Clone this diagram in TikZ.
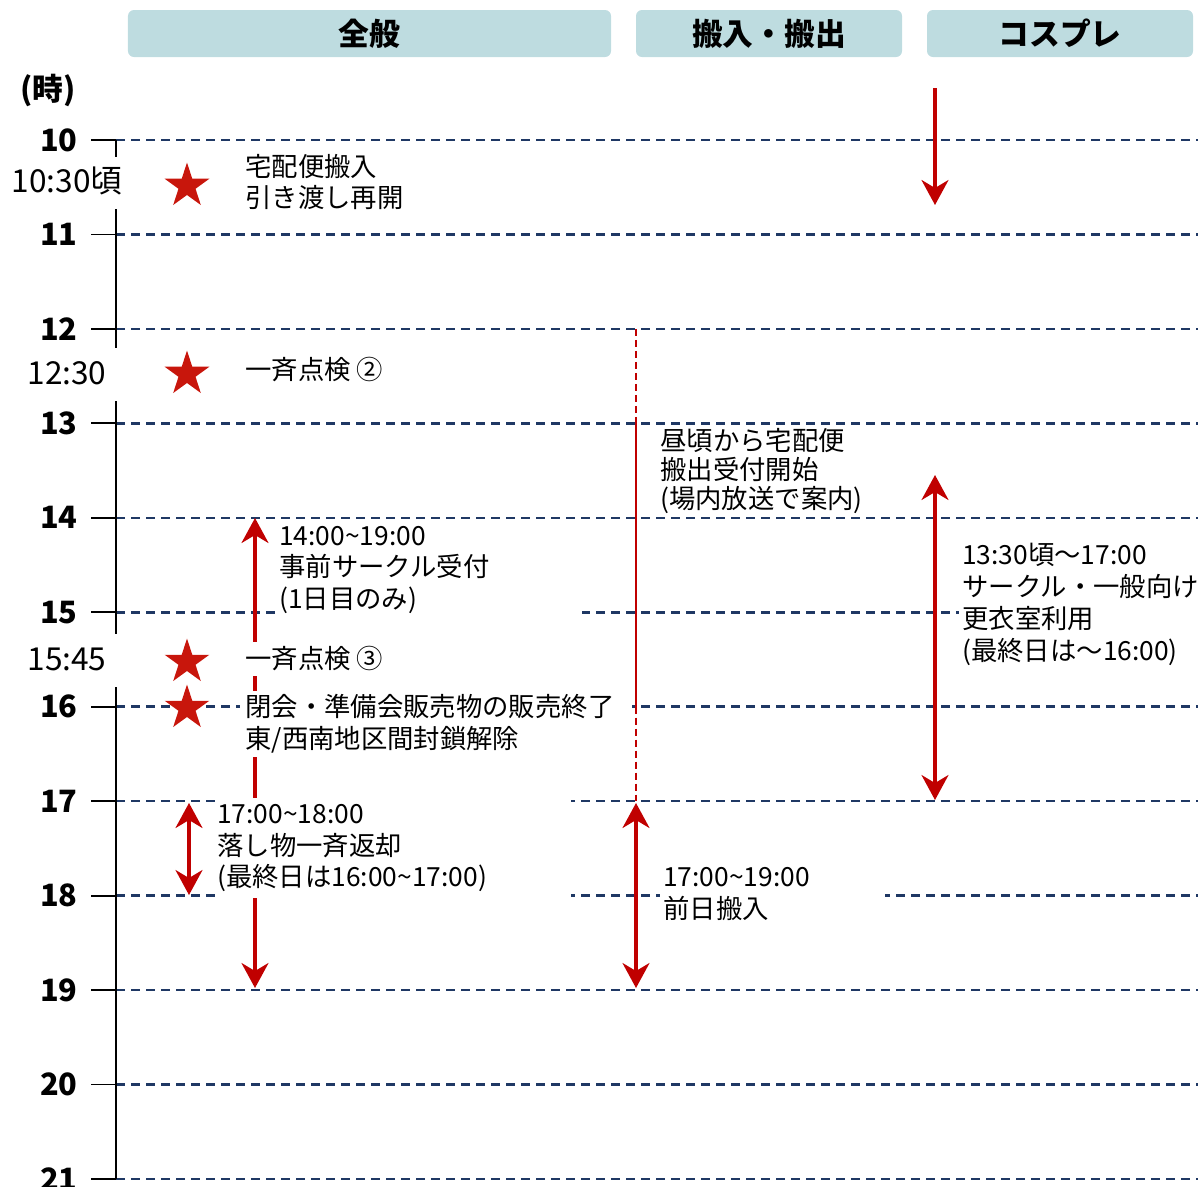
\documentclass[tikz,border=0pt]{standalone}
\usepackage{fontspec}
\setmainfont{Noto Sans CJK JP}
\usetikzlibrary{arrows.meta,shapes.geometric}
\definecolor{navy}{HTML}{1F3864}
\definecolor{darkred}{HTML}{C00000}
\definecolor{starred}{HTML}{C8160C}
\definecolor{hdr}{HTML}{BEDCE0}
\newcommand\tld{\textasciitilde}
\newcommand\bodyf{\fontsize{15}{18.2}\selectfont}
\newcommand\bodyg{\fontsize{15}{16.5}\selectfont}
\tikzset{
  tipS/.tip={Stealth[length=5mm,width=5.4mm,inset=1.6mm]},
  hdrbox/.style={fill=hdr, rounded corners=1.2mm, minimum height=9.4mm, inner sep=0, font=\fontsize{17.5}{20}\selectfont\bfseries},
  hourlbl/.style={anchor=east, inner sep=0, font=\fontsize{17.5}{20}\selectfont\bfseries},
  timelbl/.style={inner sep=0, font=\fontsize{18}{20}\selectfont},
  hourdash/.style={draw=navy, line width=1.4pt, dash pattern=on 1.8mm off 1.2mm},
  tickline/.style={draw=black, line width=1.1pt},
  redarr/.style={draw=darkred, line width=1.8pt},
  redthin/.style={draw=darkred, line width=1pt},
  reddash/.style={draw=darkred, line width=1pt, dash pattern=on 1.4mm off 0.8mm},
  txt/.style={anchor=west, inner sep=0, align=left, font=\bodyf},
  coverbox/.style={anchor=west, fill=white, align=left, font=\bodyf, inner ysep=0},
  redstar/.style={star, star points=5, star point ratio=2.618, fill=starred, draw=none, minimum size=9.4mm, inner sep=0},
}
\begin{document}
\begin{tikzpicture}[x=0.2mm,y=-0.2mm]
\useasboundingbox (0,0) rectangle (1198,1186);
\clip (0,0) rectangle (1198,1186);

% headers
\node[hdrbox, minimum width=96.6mm] (hgen) at (369.5,33.5) {全般};
\node[hdrbox, minimum width=53.2mm] (hio) at (769,33.5) {搬入・搬出};
\node[hdrbox, minimum width=53.2mm] (hcos) at (1060,33.5) {コスプレ};
\node[inner sep=0, font=\fontsize{17.5}{20}\selectfont\bfseries] (unit) at (48,90) {(時)};

% hour lines
\foreach \h/\y in {10/140,11/234.5,12/328.9,13/423.4,14/517.8,15/612.3,16/706.7,17/801.2,18/895.6,19/990.1,20/1084.5,21/1179}{
  \draw[hourdash] (116,\y) -- (1200,\y);
  \draw[tickline] (91,\y) -- (116,\y);
  \node[hourlbl] (h\h) at (78,\y) {\h};
}
% axis
\draw[tickline] (116,140) -- (116,157);
\draw[tickline] (116,209) -- (116,348);
\draw[tickline] (116,401) -- (116,634);
\draw[tickline] (116,687) -- (116,1179);

% time labels
\node[timelbl] (t1030) at (67,181) {10:30頃};
\node[timelbl] (t1230) at (67,373) {12:30};
\node[timelbl] (t1545) at (67,659) {15:45};

% coordinates for connectors
\coordinate (c12) at (636,328.9);
\coordinate (c13) at (636,423.4);
\coordinate (c16) at (636,706.7);
\coordinate (c17) at (636,801.2);
\coordinate (io1) at (636,803);
\coordinate (io2) at (636,988);
\coordinate (cosA) at (935,88);
\coordinate (cosB) at (935,205);
\coordinate (cosC) at (935,475);
\coordinate (cosD) at (935,800);
\coordinate (pre1) at (255,518);
\coordinate (pre2) at (255,988);
\coordinate (lost1) at (189,803);
\coordinate (lost2) at (189,895);

% red connectors
\draw[reddash] (c12) -- (c13);
\draw[redthin] (c13) -- (c16);
\draw[reddash] (c16) -- (c17);
\draw[redarr, tipS-tipS] (io1) -- (io2);
\draw[redarr, -tipS] (cosA) -- (cosB);
\draw[redarr, tipS-tipS] (cosC) -- (cosD);
\draw[redarr, tipS-tipS] (pre1) -- (pre2);
\draw[redarr, tipS-tipS] (lost1) -- (lost2);

% texts
\node[txt] (n1) at (245,182) {宅配便搬入\\引き渡し再開};
\node[txt] (n2) at (245,370) {一斉点検 ②};
\node[coverbox, inner xsep=0.6mm, text width=60mm, minimum height=19mm] (n3) at (276,570) {14:00\tld19:00\\事前サークル受付\\(1日目のみ)};
\node[coverbox, inner xsep=0.8mm, minimum height=6.8mm] (n4) at (241,659) {一斉点検 ③};
\node[coverbox, inner xsep=1mm, text width=76.4mm, minimum height=13.2mm] (n5) at (240,724) {閉会・準備会販売物の販売終了\\東/西南地区間封鎖解除};
\node[coverbox, inner xsep=0.4mm, text width=70.4mm, minimum height=20mm] (n6) at (215,848) {17:00\tld18:00\\落し物一斉返却\\(最終日は16:00\tld17:00)};
\node[txt, font=\bodyg] (n7) at (660,471) {昼頃から宅配便\\搬出受付開始\\(場内放送で案内)};
\node[coverbox, inner xsep=0.6mm, text width=43.8mm, minimum height=13mm] (n8) at (660,894) {17:00\tld19:00\\前日搬入};
\node[coverbox, inner xsep=0.6mm, text width=66mm, minimum height=26mm] (n9) at (959,604) {13:30頃〜17:00\\サークル・一般向け\\更衣室利用\\(最終日は〜16:00)};

% stars
\node[redstar] (s1) at (187,186) {};
\node[redstar] (s2) at (187,374) {};
\node[redstar] (s3) at (187,662) {};
\node[redstar] (s4) at (187,708) {};
\end{tikzpicture}
\end{document}
